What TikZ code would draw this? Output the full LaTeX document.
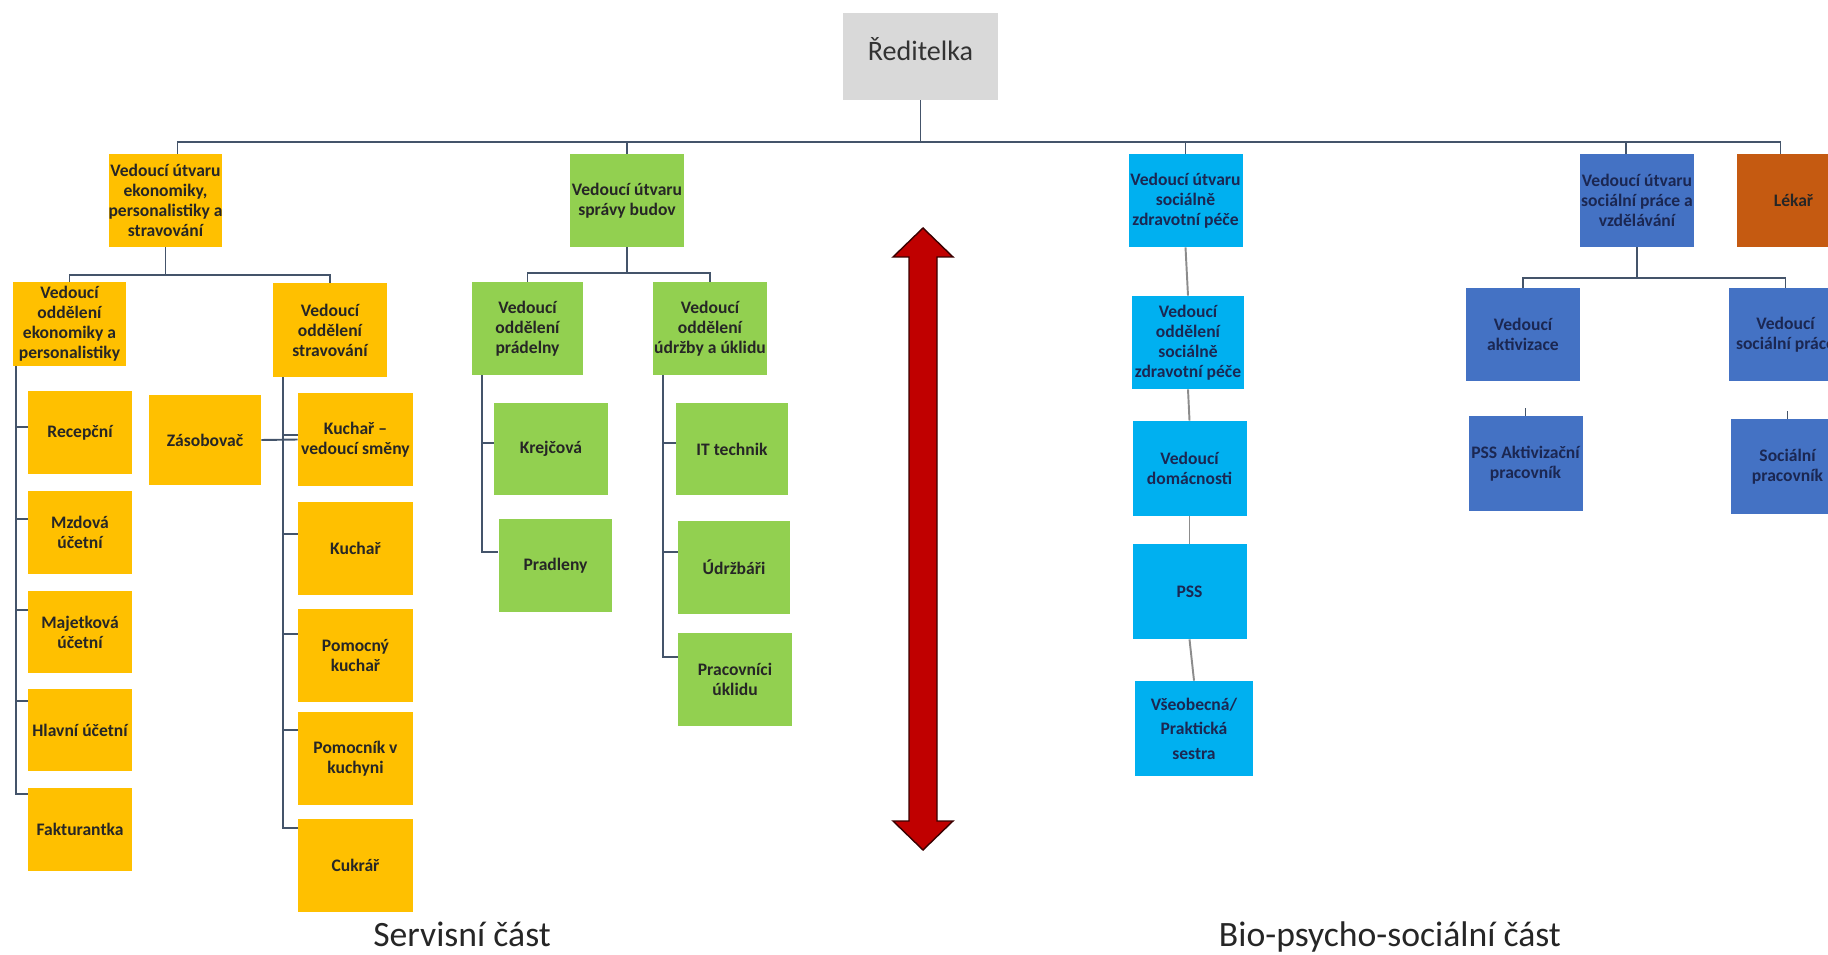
\documentclass[tikz,border=0pt]{standalone}
\usepackage{fontspec}
\setmainfont{Carlito}
\usepackage{xcolor}
\usepackage{tikz}
\usetikzlibrary{calc}
\definecolor{gold}{HTML}{FFC000}
\definecolor{leaf}{HTML}{92D050}
\definecolor{sky}{HTML}{00B0F0}
\definecolor{royal}{HTML}{4472C4}
\definecolor{rust}{HTML}{C55A11}
\definecolor{boss}{HTML}{D9D9D9}
\definecolor{wire}{HTML}{44546A}
\definecolor{wiregrey}{HTML}{8C8C8C}
\definecolor{crimson}{HTML}{C00000}
\definecolor{navy}{HTML}{1B2752}
\tikzstyle{unit} = [rectangle, minimum width=2.28cm, minimum height=1.86cm, inner sep=0pt, align=center, font=\fontsize{10}{11.4}\selectfont\bfseries]
\tikzstyle{ekon} = [unit, fill=gold, text=black!85]
\tikzstyle{budovy} = [unit, fill=leaf, text=black!85]
\tikzstyle{pece} = [unit, fill=sky, text=navy]
\tikzstyle{socialni} = [unit, fill=royal, text=navy]
\tikzstyle{small} = [minimum width=2.08cm, minimum height=1.66cm]
\tikzstyle{link} = [draw=wire, line width=1.1pt]
\tikzstyle{greylink} = [draw=wiregrey, line width=1.1pt]
\tikzstyle{part} = [font=\fontsize{20.3}{24}\selectfont, text=black!85, anchor=base]

\begin{document}
\begin{tikzpicture}[x=0.02cm, y=-0.02cm]
    \useasboundingbox (0,0) rectangle (1828,955);
    \clip (0,0) rectangle (1828,955);

    % Top
    \node[unit, fill=boss, minimum width=3.1cm, minimum height=1.74cm, text depth=0.28cm, font=\fontsize{16}{19}\selectfont, text=black!80] (root) at (920.5, 56.5) {Ředitelka};
    \coordinate (bus) at (0, 142);

    % Level 1
    \node[ekon] (eko) at (165.5, 200.5) {Vedoucí útvaru\\ekonomiky,\\personalistiky a\\stravování};
    \node[budovy] (spr) at (627, 200.5) {Vedoucí útvaru\\správy budov};
    \node[pece] (szp) at (1185.5, 200.5) {Vedoucí útvaru\\sociálně\\zdravotní péče};
    \node[socialni] (spv) at (1637, 200.5) {Vedoucí útvaru\\sociální práce a\\vzdělávání};
    \node[unit, fill=rust, text=black!85] (lek) at (1793.5, 200.5) {Lékař};

    % Servisni cast - ekonomika
    \node[ekon, minimum width=2.26cm, minimum height=1.68cm] (oek) at (69.5, 324) {Vedoucí\\oddělení\\ekonomiky a\\personalistiky};
    \node[ekon, minimum height=1.88cm] (ost) at (330, 330) {Vedoucí\\oddělení\\stravování};
    \node[ekon, small] (rec) at (80, 432.5) {Recepční};
    \node[ekon, small] (mzd) at (80, 532.5) {Mzdová\\účetní};
    \node[ekon, small] (maj) at (80, 632) {Majetková\\účetní};
    \node[ekon, small] (hla) at (80, 730) {Hlavní účetní};
    \node[ekon, small] (fak) at (80, 829.5) {Fakturantka};
    \node[ekon, minimum width=2.24cm, minimum height=1.8cm] (zas) at (205, 440) {Zásobovač};
    \node[ekon, minimum width=2.3cm, minimum height=1.88cm] (kvs) at (355.5, 439.5) {Kuchař –\\vedoucí směny};
    \node[ekon, minimum width=2.3cm, minimum height=1.88cm] (kuc) at (355.5, 548.5) {Kuchař};
    \node[ekon, minimum width=2.3cm, minimum height=1.88cm] (pom) at (355.5, 655.5) {Pomocný\\kuchař};
    \node[ekon, minimum width=2.3cm, minimum height=1.88cm] (pvk) at (355.5, 758.5) {Pomocník v\\kuchyni};
    \node[ekon, minimum width=2.3cm, minimum height=1.88cm] (cuk) at (355.5, 865.5) {Cukrář};

    % Servisni cast - budovy
    \node[budovy, minimum width=2.22cm] (opr) at (527.5, 328.5) {Vedoucí\\oddělení\\prádelny};
    \node[budovy] (oud) at (710, 328.5) {Vedoucí\\oddělení\\údržby a úklidu};
    \node[budovy] (kre) at (551, 449) {Krejčová};
    \node[budovy] (pra) at (555.5, 565.5) {Pradleny};
    \node[budovy, minimum width=2.24cm] (itt) at (732, 449) {IT technik};
    \node[budovy, minimum width=2.24cm] (udr) at (734, 567.5) {Údržbáři};
    \node[budovy] (puk) at (735, 679.5) {Pracovníci\\úklidu};

    % Bio-psycho-socialni cast
    \node[pece, minimum width=2.24cm] (ospe) at (1188, 342.5) {Vedoucí\\oddělení\\sociálně\\zdravotní péče};
    \node[pece, minimum height=1.9cm] (dom) at (1189.5, 468.5) {Vedoucí\\domácnosti};
    \node[pece, minimum height=1.9cm] (pss) at (1189.5, 591.5) {PSS};
    \node[pece, minimum width=2.36cm, minimum height=1.9cm, font=\fontsize{10}{14}\selectfont\bfseries] (ses) at (1194, 728.5) {Všeobecná/\\Praktická\\sestra};
    \node[socialni] (akt) at (1523, 334.5) {Vedoucí\\aktivizace};
    \node[socialni] (vsp) at (1785.5, 334.5) {Vedoucí\\sociální práce};
    \node[socialni, minimum height=1.9cm] (pak) at (1525.5, 463.5) {PSS Aktivizační\\pracovník};
    \node[socialni, minimum height=1.9cm] (sop) at (1787.5, 466.5) {Sociální\\pracovník};

    % Lines
    \coordinate (d1) at ($(eko.north)+(12,0)$);
    \coordinate (d4) at ($(spv.north)+(-11,0)$);
    \coordinate (d5) at ($(lek.north)+(-13,0)$);
    \draw[link] (root.south) -- (root.south |- bus);
    \draw[link] (d1) |- (d5 |- bus) -- (d5);
    \draw[link] (spr.north) -- (spr.north |- bus);
    \draw[link] (szp.north) -- (szp.north |- bus);
    \draw[link] (d4) -- (d4 |- bus);

    \draw[link] (eko.south) -- ++(0,28);
    \draw[link] (oek.north) -- ++(0,-7) -| (ost.north);
    \foreach \n/\d in {rec/36, mzd/28, maj/20, hla/13, fak/6}
        \draw[link] ($(oek.south west)+(3,0)$) |- ($(\n.north west)+(0,\d)$);
    \foreach \n/\d in {kvs/43, kuc/33, pom/26, pvk/19, cuk/10}
        \draw[link] ($(ost.south west)+(10,0)$) |- ($(\n.north west)+(0,\d)$);
    \draw[link] (zas.east) -- (kvs.west);

    \draw[link] (spr.south) -- ++(0,26);
    \draw[link] (opr.north) -- ++(0,-9) -| (oud.north);
    \foreach \n/\d in {kre/41, pra/33}
        \draw[link] ($(opr.south west)+(10,0)$) |- ($(\n.north west)+(0,\d)$);
    \foreach \n/\d in {itt/41, udr/31, puk/24}
        \draw[link] ($(oud.south west)+(10,0)$) |- ($(\n.north west)+(0,\d)$);

    \foreach \a/\b in {szp/ospe, ospe/dom, dom/pss, pss/ses}
        \draw[greylink] (\a.south) -- (\b.north);

    \draw[link] (spv.south) -- ++(0,30);
    \draw[link] (akt.north) -- ++(0,-10) -| (vsp.north);
    \draw[link] (pak.north) -- ++(0,-8);
    \draw[link] (sop.north) -- ++(0,-8);

    % Divider
    \filldraw[fill=crimson, draw=black!70!crimson, line width=0.8pt] (923,228) -- (953,257) -- (937,257) -- (937,821) -- (953,821) -- (923,850) -- (893,821) -- (909,821) -- (909,257) -- (893,257) -- cycle;

    % Parts
    \node[part] (servis) at (462, 946) {Servisní část};
    \node[part] (bps) at (1390, 946) {Bio-psycho-sociální část};
\end{tikzpicture}
\end{document}
